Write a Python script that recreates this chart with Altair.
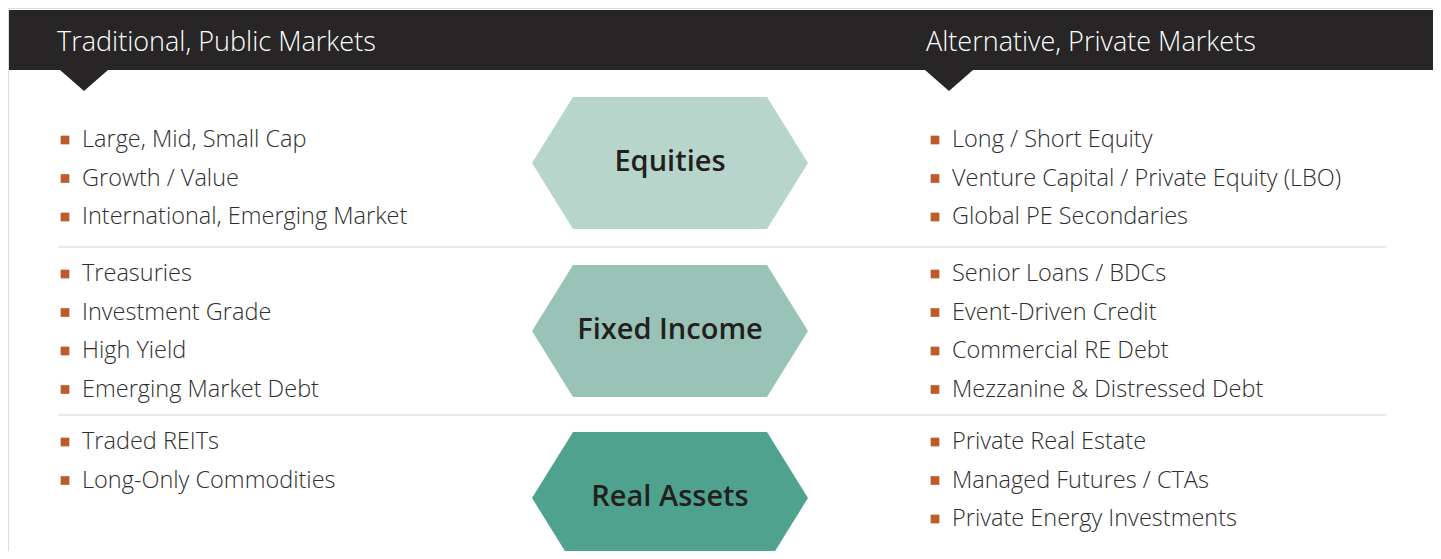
import altair as alt
import pandas as pd

# ---- content ----
headers = ["Traditional, Public Markets", "Alternative, Private Markets"]
categories = ["Equities", "Fixed Income", "Real Assets"]
cat_colors = ["#b7d5cb", "#98c3b6", "#4fa38e"]
left_items = [
    ["Large, Mid, Small Cap", "Growth / Value", "International, Emerging Market"],
    ["Treasuries", "Investment Grade", "High Yield", "Emerging Market Debt"],
    ["Traded REITs", "Long-Only Commodities"],
]
right_items = [
    ["Long / Short Equity", "Venture Capital / Private Equity (LBO)", "Global PE Secondaries"],
    ["Senior Loans / BDCs", "Event-Driven Credit", "Commercial RE Debt", "Mezzanine & Distressed Debt"],
    ["Private Real Estate", "Managed Futures / CTAs", "Private Energy Investments"],
]

# ---- layout (pixel-like coordinates of the page) ----
W, H = 1425, 543
FONT = "Open Sans"
DARK = "#272526"
BULLET = "#bf5b2a"
section_top = [140, 274, 442]
row_step = 38.5
hex_center_y = [163, 331, 498]
hex_half_h = 66
hex_x = [532, 573, 767, 808]
col_bullet_x = [65, 935]
col_text_x = [82, 952]
header_text_x = [57, 926]
pointer_x = [60, 925]
separators_y = [247, 415]

xs = alt.Scale(domain=[8, 8 + W], nice=False, zero=False)
ys = alt.Scale(domain=[8, 8 + H], nice=False, zero=False, reverse=True)

def X(f):
    return alt.X(f, type="quantitative", scale=xs, axis=None)

def Y(f):
    return alt.Y(f, type="quantitative", scale=ys, axis=None)

# header bar
bar_df = pd.DataFrame({"x": [9], "x2": [8 + W], "y": [10], "y2": [70]})
bar = alt.Chart(bar_df).mark_rect(color=DARK).encode(
    x=X("x"), x2="x2", y=Y("y"), y2="y2")

# pointers
ptr_rows = []
for i, px in enumerate(pointer_x):
    ptr_rows += [
        {"g": i, "x": px, "y": 70, "y2": 70},
        {"g": i, "x": px + 24, "y": 70, "y2": 91},
        {"g": i, "x": px + 48, "y": 70, "y2": 70},
    ]
ptr = alt.Chart(pd.DataFrame(ptr_rows)).mark_area(color=DARK, interpolate="linear").encode(
    x=X("x"), y=Y("y"), y2="y2", detail="g:N")

# header text
ht_df = pd.DataFrame({"t": headers, "x": header_text_x, "y": [43, 43]})
htext = alt.Chart(ht_df).mark_text(
    align="left", baseline="middle", font=FONT, fontSize=27, fontWeight=300, color="white"
).encode(x=X("x"), y=Y("y"), text="t:N")

# separators
sep_df = pd.DataFrame({"x": [58] * len(separators_y), "x2": [1386] * len(separators_y), "y": separators_y})
seps = alt.Chart(sep_df).mark_rule(color="#d2d3da", strokeWidth=1.2).encode(
    x=X("x"), x2="x2", y=Y("y"))

# hexagons
hex_rows = []
for c, cy in zip(categories, hex_center_y):
    hex_rows += [
        {"cat": c, "x": hex_x[0], "y": cy, "y2": cy},
        {"cat": c, "x": hex_x[1], "y": cy - hex_half_h, "y2": cy + hex_half_h},
        {"cat": c, "x": hex_x[2], "y": cy - hex_half_h, "y2": cy + hex_half_h},
        {"cat": c, "x": hex_x[3], "y": cy, "y2": cy},
    ]
hexes = alt.Chart(pd.DataFrame(hex_rows)).mark_area(interpolate="linear", clip=True, opacity=1).encode(
    x=X("x"), y=Y("y"), y2="y2",
    color=alt.Color("cat:N", scale=alt.Scale(domain=categories, range=cat_colors), legend=None))

hl_df = pd.DataFrame({"t": categories, "x": [670] * 3, "y": [c - 1 for c in hex_center_y]})
hlabels = alt.Chart(hl_df).mark_text(
    align="center", baseline="middle", font=FONT, fontSize=29, fontWeight=600, color="#231f20"
).encode(x=X("x"), y=Y("y"), text="t:N")

# bullet items
item_rows = []
for side, items in enumerate([left_items, right_items]):
    for s, lst in enumerate(items):
        for r, t in enumerate(lst):
            item_rows.append({
                "t": t,
                "bx": col_bullet_x[side],
                "tx": col_text_x[side],
                "y": section_top[s] + r * row_step,
            })
items_df = pd.DataFrame(item_rows)
bullets = alt.Chart(items_df).mark_square(size=76, color=BULLET, opacity=1, filled=True).encode(
    x=X("bx"), y=Y("y"))
itexts = alt.Chart(items_df).mark_text(
    align="left", baseline="middle", font=FONT, fontSize=23.5, fontWeight=300, color="#2e2e2e"
).encode(x=X("tx"), y=Y("y"), text="t:N")

chart = alt.layer(bar, ptr, htext, seps, hexes, hlabels, bullets, itexts).properties(
    width=W, height=H, padding=0, autosize=alt.AutoSizeParams(type="none")
).configure_view(stroke=None).configure(background="white")

chart.save("out.html", embed_options={"renderer": "svg", "actions": False})
